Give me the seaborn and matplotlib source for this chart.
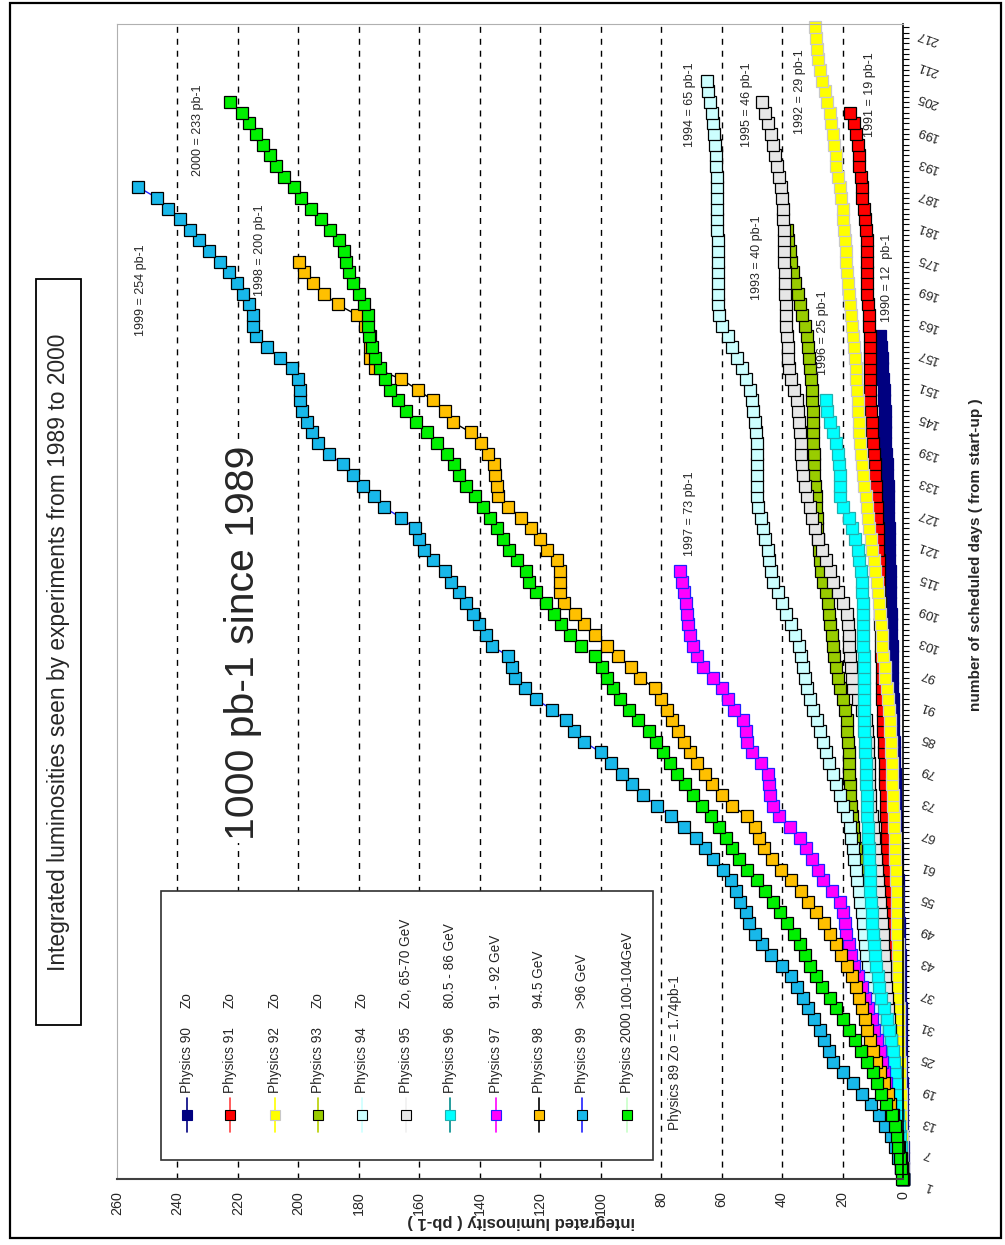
import numpy as np
import matplotlib
matplotlib.use("Agg")
import matplotlib.pyplot as plt
import matplotlib.ticker as mtick
from matplotlib import font_manager
from matplotlib.patches import Rectangle
from matplotlib.lines import Line2D
import seaborn as sns

# Integrated luminosity (pb-1), one value every second
# scheduled day (day 1, 3, 5, ...)
lumi_1990 = [0.0, 0.05, 0.1, 0.15, 0.2, 0.25, 0.3, 0.35, 0.4, 0.45,
             0.5, 0.55, 0.6, 0.65, 0.7, 0.75, 0.8, 0.85, 0.9, 0.95,
             1.0, 1.1, 1.2, 1.3, 1.4, 1.5, 1.6, 1.7, 1.8, 1.9,
             2.0, 2.1, 2.2, 2.3, 2.4, 2.5, 2.6, 2.7, 2.8, 2.9,
             3.0, 3.1, 3.2, 3.3, 3.4, 3.45, 3.5, 3.6, 3.7, 3.75,
             3.8, 3.9, 4.0, 4.1, 4.2, 4.25, 4.3, 4.4, 4.5, 4.6,
             4.65, 4.7, 4.8, 4.9, 5.0, 5.1, 5.2, 5.4, 5.6, 5.8,
             5.9, 6.0, 6.1, 6.2, 6.4, 6.6, 6.8, 7.0, 7.3, 7.6]
lumi_1991 = [0.0, 0.2, 0.4, 0.6, 0.7, 0.9, 1.1, 1.3, 1.5, 1.7,
             1.9, 2.1, 2.3, 2.5, 2.7, 2.9, 3.1, 3.3, 3.5, 3.7,
             3.9, 4.1, 4.2, 4.3, 4.5, 4.6, 4.7, 4.8, 4.9, 5.0,
             5.1, 5.2, 5.3, 5.4, 5.5, 5.6, 5.7, 5.8, 5.9, 6.0,
             6.2, 6.3, 6.5, 6.6, 6.7, 6.8, 6.9, 7.0, 7.1, 7.2,
             7.3, 7.4, 7.5, 7.6, 7.7, 7.8, 7.9, 8.0, 8.1, 8.2,
             8.3, 8.4, 8.5, 8.6, 8.8, 9.0, 9.2, 9.4, 9.7, 10.0,
             10.2, 10.4, 10.6, 10.8, 11.0, 11.0, 11.0, 11.0, 11.0, 11.0,
             11.2, 11.4, 11.6, 11.8, 12.0, 12.0, 12.0, 12.0, 12.0, 12.2,
             12.6, 13.0, 13.4, 13.7, 14.0, 14.4, 14.7, 15.0, 15.4, 16.2,
             17.5]
lumi_1992 = [0.0, 0.1, 0.2, 0.3, 0.4, 0.5, 0.6, 0.7, 0.8, 0.9,
             1.0, 1.1, 1.2, 1.3, 1.3, 1.4, 1.4, 1.5, 1.5, 1.6,
             1.6, 1.7, 1.8, 1.9, 1.9, 2.0, 2.0, 2.1, 2.2, 2.3,
             2.5, 2.6, 2.8, 2.9, 3.0, 3.2, 3.3, 3.5, 3.6, 3.8,
             3.9, 4.1, 4.2, 4.4, 4.7, 5.1, 5.4, 5.8, 6.1, 6.5,
             6.8, 7.1, 7.4, 7.7, 8.0, 8.3, 8.6, 9.1, 9.6, 10.1,
             10.6, 11.1, 11.6, 12.0, 12.4, 12.8, 13.2, 13.6, 14.0, 14.2,
             14.4, 14.6, 14.8, 15.0, 15.2, 15.5, 15.7, 16.0, 16.2, 16.5,
             16.8, 17.2, 17.5, 17.8, 18.1, 18.4, 18.7, 18.9, 19.2, 19.5,
             19.7, 20.0, 20.4, 21.0, 21.5, 22.0, 22.3, 22.7, 23.0, 23.7,
             24.3, 25.0, 25.8, 26.7, 27.5, 28.0, 28.4, 28.8, 29.0]
lumi_1993 = [0.0, 0.4, 0.9, 1.3, 1.8, 2.2, 2.7, 3.3, 3.9, 4.6,
             5.3, 5.9, 6.5, 7.1, 7.7, 8.3, 8.8, 9.3, 9.8, 10.3,
             10.8, 11.3, 11.8, 12.3, 12.8, 13.2, 13.6, 14.0, 14.4, 14.8,
             15.2, 15.6, 16.1, 16.6, 17.0, 17.3, 17.5, 17.6, 17.8, 17.9,
             18.0, 18.2, 18.4, 18.6, 19.3, 20.0, 20.8, 21.4, 22.0, 22.7,
             23.2, 23.6, 24.0, 24.4, 24.8, 25.5, 26.3, 27.0, 27.5, 27.8,
             28.1, 28.3, 28.5, 28.7, 28.9, 29.1, 29.3, 29.5, 29.6, 29.7,
             29.8, 29.8, 29.9, 30.0, 30.1, 30.4, 30.8, 31.1, 31.5, 31.8,
             32.5, 33.3, 34.0, 34.8, 35.6, 36.3, 36.9, 37.5, 38.0, 38.4]
lumi_1994 = [0.0, 0.4, 0.9, 1.3, 1.8, 2.3, 2.9, 3.5, 4.1, 4.7,
             5.3, 6.0, 6.8, 7.6, 8.5, 9.2, 9.8, 10.3, 10.8, 11.3,
             11.7, 12.1, 12.5, 12.9, 13.3, 13.7, 14.2, 14.7, 15.2, 15.6,
             16.1, 16.6, 17.1, 17.6, 18.6, 19.7, 20.8, 22.0, 23.2, 24.4,
             25.5, 26.5, 27.5, 28.6, 29.8, 30.8, 31.8, 32.4, 33.0, 33.6,
             34.5, 35.8, 37.2, 38.6, 40.0, 41.5, 43.0, 43.6, 44.2, 44.8,
             45.5, 46.2, 47.0, 47.8, 48.3, 48.3, 48.3, 48.3, 48.3, 48.4,
             48.5, 49.0, 49.5, 50.0, 50.6, 51.8, 53.2, 55.0, 56.5, 58.0,
             60.0, 61.0, 61.1, 61.1, 61.2, 61.2, 61.3, 61.3, 61.3, 61.4,
             61.4, 61.4, 61.5, 61.5, 61.5, 61.8, 62.0, 62.3, 62.6, 62.9,
             63.3, 63.8, 64.4, 65.0]
lumi_1995 = [0.0, 0.3, 0.7, 1.0, 1.3, 1.7, 2.0, 2.3, 2.6, 2.9,
             3.2, 3.5, 3.8, 4.1, 4.4, 4.7, 5.0, 5.3, 5.6, 5.9,
             6.1, 6.3, 6.5, 6.7, 7.0, 7.3, 7.6, 7.9, 8.2, 8.5,
             8.8, 9.2, 9.6, 10.0, 10.4, 10.8, 11.0, 11.2, 11.3, 11.4,
             11.5, 11.7, 11.9, 12.2, 13.5, 15.0, 16.5, 16.8, 17.1, 17.4,
             17.7, 18.0, 18.3, 18.6, 19.8, 21.5, 23.0, 24.3, 25.5, 26.8,
             28.0, 29.0, 30.0, 30.9, 31.6, 32.3, 33.0, 33.3, 33.6, 33.9,
             34.2, 34.4, 34.7, 35.1, 36.0, 37.0, 37.7, 38.0, 38.2, 38.4,
             38.6, 38.7, 38.8, 38.9, 39.0, 39.1, 39.2, 39.3, 39.4, 39.5,
             39.6, 39.7, 39.9, 40.5, 41.0, 41.6, 42.2, 43.0, 43.8, 44.6,
             45.5, 46.6]
lumi_1996 = [0.0, 0.2, 0.5, 0.8, 1.1, 1.4, 1.7, 2.0, 2.2, 2.4,
             2.6, 3.0, 3.4, 3.9, 4.6, 5.4, 6.4, 7.3, 7.9, 8.4,
             8.9, 9.3, 9.6, 9.9, 10.2, 10.4, 10.6, 10.8, 10.9, 11.0,
             11.1, 11.3, 11.5, 11.7, 11.8, 11.9, 12.0, 12.2, 12.3, 12.4,
             12.6, 12.7, 12.8, 12.9, 13.0, 13.0, 13.0, 13.0, 13.0, 13.0,
             13.1, 13.1, 13.1, 13.2, 13.3, 13.4, 13.5, 13.8, 14.4, 15.0,
             16.0, 17.0, 18.0, 20.0, 20.8, 20.9, 21.0, 21.1, 21.6, 22.3,
             23.0, 24.0, 25.0, 25.5]
lumi_1997 = [0.0, 0.5, 1.1, 1.7, 2.3, 2.8, 3.4, 4.2, 5.0, 5.6,
             6.3, 7.0, 7.6, 8.5, 9.5, 10.4, 11.5, 12.5, 13.6, 14.8,
             16.2, 17.2, 18.0, 18.7, 19.2, 19.8, 21.0, 23.5, 26.5, 28.2,
             30.0, 32.0, 34.0, 37.5, 41.0, 43.0, 44.0, 44.3, 44.8, 47.0,
             50.0, 51.6, 52.0, 53.0, 56.0, 58.0, 60.0, 63.0, 66.0, 68.0,
             69.5, 70.5, 71.0, 71.5, 71.8, 72.4, 73.2, 73.8]
lumi_1998 = [0.0, 0.4, 0.8, 1.3, 1.9, 2.6, 3.3, 4.2, 5.1, 6.2,
             7.5, 8.8, 10.0, 11.0, 11.8, 12.6, 13.5, 14.4, 15.5, 16.8,
             18.5, 20.5, 22.0, 24.0, 26.2, 28.8, 31.5, 33.8, 37.0, 40.2,
             43.3, 46.0, 47.5, 49.0, 51.5, 56.5, 60.0, 63.2, 65.5, 68.0,
             70.5, 72.5, 74.3, 76.5, 78.0, 80.0, 82.0, 87.0, 90.0, 94.2,
             97.8, 102.0, 105.5, 108.5, 112.0, 113.5, 113.5, 113.6, 114.5, 117.8,
             120.0, 123.0, 126.2, 130.5, 134.0, 134.3, 134.8, 135.4, 137.2, 139.5,
             143.0, 149.0, 151.5, 155.5, 160.5, 166.0, 174.5, 176.2, 176.3, 176.3,
             178.0, 180.5, 187.0, 191.5, 195.0, 198.0, 199.8]
lumi_1999 = [0.0, 0.6, 1.5, 2.6, 4.0, 5.8, 8.0, 10.5, 13.5, 16.5,
             20.0, 23.0, 24.5, 26.0, 27.5, 29.5, 31.3, 33.2, 35.0, 37.0,
             40.0, 43.5, 46.5, 48.8, 50.8, 52.0, 53.8, 55.4, 57.0, 59.5,
             62.8, 65.5, 68.6, 72.5, 76.8, 81.5, 86.0, 89.5, 93.0, 96.5,
             100.0, 105.5, 108.8, 111.5, 116.0, 121.5, 125.0, 128.5, 129.5, 130.5,
             136.0, 138.0, 140.2, 142.3, 144.5, 147.0, 149.5, 151.5, 155.5, 158.5,
             160.2, 161.5, 166.0, 171.8, 175.0, 178.5, 182.0, 185.2, 190.0, 193.5,
             195.5, 197.0, 198.8, 199.5, 199.5, 200.0, 202.2, 206.0, 210.5, 214.0,
             215.0, 215.0, 216.5, 218.4, 220.2, 222.8, 226.0, 229.6, 233.0, 236.0,
             239.0, 243.0, 246.8, 253.0]
lumi_2000 = [0.3, 0.6, 1.0, 1.5, 2.0, 2.8, 3.8, 5.5, 7.2, 8.6,
             10.0, 12.0, 14.0, 15.8, 18.0, 20.0, 22.2, 24.0, 26.8, 28.8,
             30.6, 32.3, 34.0, 36.2, 38.4, 40.6, 43.0, 45.6, 48.3, 51.5,
             54.2, 56.5, 58.5, 61.0, 63.5, 66.5, 69.5, 72.0, 74.8, 77.0,
             79.4, 81.6, 84.0, 87.5, 90.8, 93.6, 95.8, 98.0, 99.6, 102.0,
             106.5, 110.2, 113.0, 115.5, 118.2, 121.5, 123.6, 124.8, 127.7, 130.2,
             132.3, 134.2, 136.5, 139.0, 141.6, 144.5, 147.0, 148.6, 150.8, 154.0,
             157.5, 161.2, 164.4, 167.2, 169.7, 171.5, 173.0, 174.5, 175.5, 176.7,
             177.0, 177.0, 178.2, 180.0, 181.8, 183.4, 184.2, 185.0, 186.6, 189.4,
             192.4, 195.8, 199.0, 201.5, 204.8, 207.4, 209.5, 211.7, 214.1, 216.5,
             218.8, 222.6]

# legend text (run name, beam energy)
run_names = ["Physics 90", "Physics 91", "Physics 92", "Physics 93", "Physics 94",
             "Physics 95", "Physics 96", "Physics 97", "Physics 98", "Physics 99",
             "Physics 2000"]
run_energies = ["Zo", "Zo", "Zo", "Zo", "Zo", "Zo, 65-70 GeV", "80.5 - 86 GeV",
                "91 - 92 GeV", "94.5 GeV", ">96 GeV", "100-104GeV"]
all_lumi = [lumi_1990, lumi_1991, lumi_1992, lumi_1993, lumi_1994, lumi_1995,
            lumi_1996, lumi_1997, lumi_1998, lumi_1999, lumi_2000]

# (marker face, marker edge, line colour) for every run, Excel-like
styles = [
    ("#000080", "#000080", "#000080"),
    ("#FF0000", "#000000", "#FF4040"),
    ("#FFFF00", "#C8C8C8", "#FFFF00"),
    ("#99CC00", "#000000", "#B8D000"),
    ("#CCFFFF", "#000000", "#CCFFFF"),
    ("#E6E6E6", "#000000", "#F0F0F0"),
    ("#00FFFF", "#20B0B0", "#008C8C"),
    ("#FF00FF", "#2020FF", "#FF00FF"),
    ("#FFC000", "#000000", "#000000"),
    ("#18B8EA", "#000000", "#2020FF"),
    ("#00F000", "#000000", "#C8FFC8"),
]

# final totals written next to the curves: (text, x px, y px)
notes = [
    ("1999 = 254 pb-1", 141, 290),
    ("2000 = 233 pb-1", 198, 130),
    ("1998 = 200 pb-1", 260, 250),
    ("1997 = 73 pb-1", 690, 514),
    ("1994 = 65 pb-1", 690, 105),
    ("1995 = 46 pb-1", 747, 105),
    ("1992 = 29 pb-1", 800, 92),
    ("1991 = 19 pb-1", 870, 95),
    ("1993 = 40 pb-1", 757, 258),
    ("1996 = 25 pb-1", 823, 333),
    ("1990 = 12  pb-1", 887, 278),
]

W, H = 1005, 1245


def fx(px):
    return px / W


def fy(py):
    return 1 - py / H


sns.set_style("white")
installed = {f.name for f in font_manager.fontManager.ttflist}
narrow = "Liberation Sans Narrow" in installed
FONT = "Liberation Sans Narrow" if narrow else "Liberation Sans"
k = 1.0 if narrow else 0.82  # keep text lengths similar without the narrow face
plt.rcParams["font.family"] = [FONT, "DejaVu Sans"]
plt.rcParams["lines.scale_dashes"] = False

fig = plt.figure(figsize=(W / 100, H / 100), dpi=100)
ax = fig.add_axes([fx(117), fy(1179), (903 - 117) / W, (1179 - 24) / H])

# dashed value grid
for v in range(20, 260, 20):
    ax.axvline(v, color="black", lw=1.0, ls=(0, (4.3, 4.3)), zorder=0.5)

for vals, (face, edge, line) in zip(all_lumi, styles):
    days = np.arange(1, 2 * len(vals), 2)
    sns.lineplot(x=vals, y=days, sort=False, estimator=None, ax=ax,
                 color=line, lw=1.0, marker="s", markersize=8.3,
                 markerfacecolor=face, markeredgecolor=edge,
                 markeredgewidth=0.9, clip_on=False, legend=False)

ax.set_xlim(260, 0)
ax.set_ylim(1, 217.6)
ax.set_xlabel("")
ax.set_ylabel("")

# luminosity axis (bottom)
ax.set_xticks(range(0, 261, 20))
ax.tick_params(axis="x", direction="inout", length=6, width=1, color="#404040",
               labelrotation=90, pad=6, labelsize=12.5 * k)

# day axis (right)
ax.yaxis.tick_right()
ax.set_yticks(range(1, 218, 6))
ax.yaxis.set_minor_locator(mtick.MultipleLocator(1))
ax.tick_params(axis="y", which="both", direction="out", length=4, width=0.8,
               color="black", right=True, left=False)
ax.tick_params(axis="y", which="major", labelrotation=160, pad=14,
               labelsize=11.5 * k)
plt.setp(ax.get_yticklabels(), ha="center", va="top")

for side in ["left", "top"]:
    ax.spines[side].set_color("#B0B0B0")
    ax.spines[side].set_linewidth(0.8)
ax.spines["bottom"].set_color("#404040")
ax.spines["bottom"].set_linewidth(1.5)
ax.spines["right"].set_color("black")
ax.spines["right"].set_linewidth(1.2)

# annotations
for txt, x, y in notes:
    fig.text(fx(x), fy(y), txt, rotation=90, ha="center", va="center",
             fontsize=11 * k)

fig.text(fx(243), fy(643), "1000 pb-1 since 1989", rotation=90, ha="center",
         va="center", fontsize=36 * k,
         bbox=dict(facecolor="white", edgecolor="none", pad=2))

fig.text(fx(675), fy(1130), "Physics 89 Zo = 1.74pb-1", rotation=90,
         ha="center", va="bottom", fontsize=12 * k)

# legend drawn by hand (rotated like the rest of the chart)
fig.add_artist(Rectangle((fx(161), fy(1160)), (653 - 161) / W, (1160 - 891) / H,
                         transform=fig.transFigure, facecolor="white",
                         edgecolor="#303030", lw=1.2, zorder=3))
leg_x = [187, 230, 275, 318, 362, 406, 450, 496, 539, 582, 627]
for x, name, energy, (face, edge, line) in zip(leg_x, run_names, run_energies, styles):
    fig.add_artist(Line2D([fx(x), fx(x)], [fy(1132), fy(1098)], color=line, lw=1.2,
                          transform=fig.transFigure, zorder=4))
    fig.add_artist(Line2D([fx(x)], [fy(1115)], marker="s", markersize=6.5,
                          markerfacecolor=face, markeredgecolor=edge,
                          markeredgewidth=0.8, transform=fig.transFigure, zorder=5))
    fig.text(fx(x), fy(1093), name, rotation=90, ha="center", va="bottom",
             fontsize=12 * k, zorder=6)
    fig.text(fx(x), fy(1008), energy, rotation=90, ha="center", va="bottom",
             fontsize=12 * k, zorder=6)

# axis titles
fig.text(fx(521), fy(1222), "integrated luminosity ( pb-1 )", rotation=180,
         ha="center", va="center", fontsize=12, fontweight="bold",
         family=["Liberation Sans", "DejaVu Sans"])
fig.text(fx(976), fy(555), "number of scheduled days ( from start-up )",
         rotation=90, ha="center", va="center", fontsize=11, fontweight="bold",
         family=["Liberation Sans", "DejaVu Sans"])

# chart title in its box
fig.add_artist(Rectangle((fx(36), fy(1025)), (81 - 36) / W, (1025 - 279) / H,
                         transform=fig.transFigure, facecolor="white",
                         edgecolor="black", lw=1.3))
fig.text(fx(58.5), fy(652), "Integrated luminosities seen by experiments from 1989 to 2000",
         rotation=90, ha="center", va="center", fontsize=20 * k)

# outer frame
fig.add_artist(Rectangle((fx(10), fy(1238)), (1001 - 10) / W, (1238 - 3) / H,
                         transform=fig.transFigure, fill=False,
                         edgecolor="black", lw=1.6))

fig.savefig("out.png", dpi=100)
